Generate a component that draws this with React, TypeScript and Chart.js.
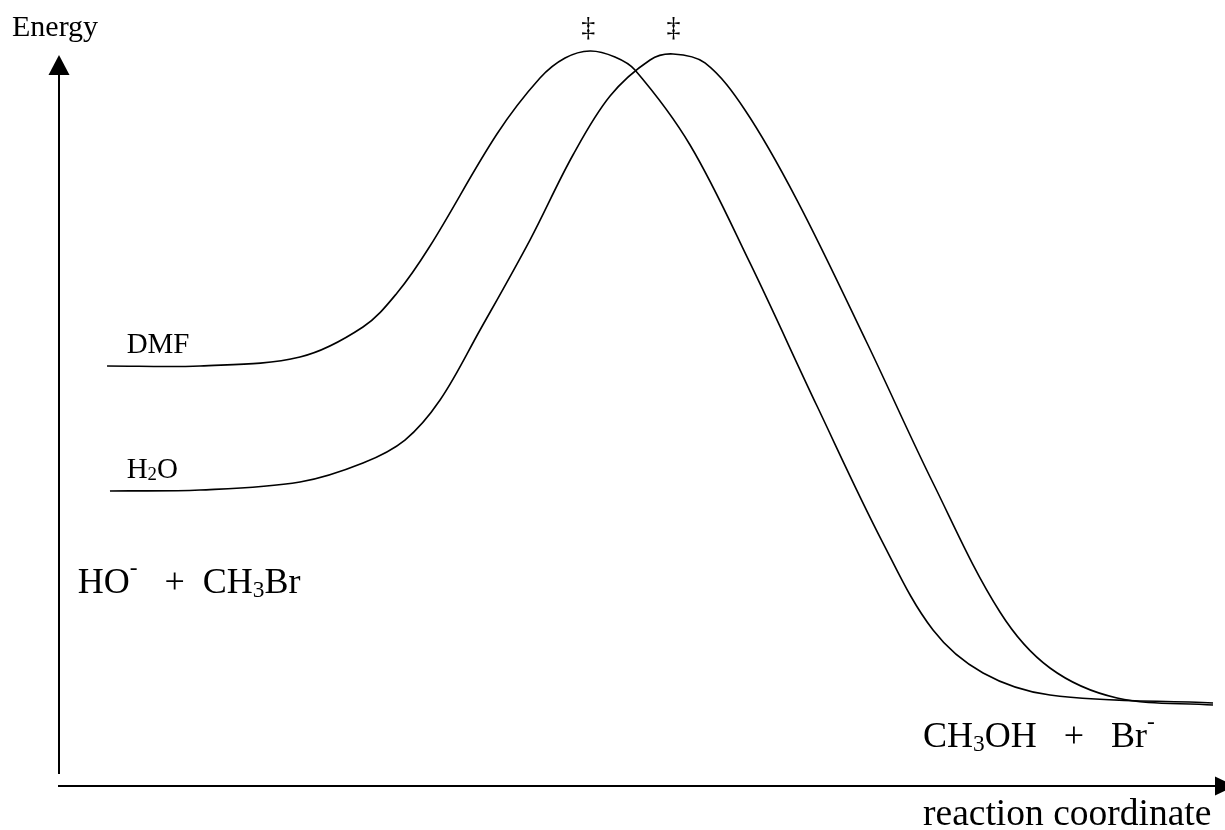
import React, { useEffect, useRef } from "react";
import { Chart, registerables } from "chart.js";

Chart.register(...registerables);

// Reaction coordinate (0-100) and energy (0-100, arbitrary units)
const dmfCoord = [4.12, 12.09, 20.67, 26.07, 28.99, 31.82, 37.56, 41.25, 43.4, 45.54, 47.68, 49.4, 54.12, 59.26, 65.01, 70.67, 74.96, 79.25, 84.99, 98.97];
const dmfEnergy = [57.46, 57.46, 58.69, 62.79, 67.44, 73.87, 89.19, 96.85, 99.59, 100.55, 99.73, 97.95, 87.69, 71.55, 51.98, 33.24, 21.34, 15.46, 12.45, 11.35];

const h2oCoord = [4.37, 12.09, 20.67, 26.07, 29.67, 32.68, 36.11, 40.39, 44.08, 47.26, 50.69, 52.66, 55.4, 58.83, 63.29, 69.3, 74.96, 80.7, 84.99, 90.74, 98.97];
const h2oEnergy = [40.36, 40.49, 41.59, 44.19, 47.33, 52.8, 62.38, 74.69, 86.32, 94.39, 99.32, 100.14, 98.91, 92.48, 80.16, 60.6, 41.45, 23.8, 16.14, 12.04, 11.08];

const seriesNames = ["DMF", "H2O"];

type Seg = { t: string; k?: "sub" | "sup" };

const FONT = '"Liberation Serif", "Times New Roman", serif';

function drawRich(ctx: CanvasRenderingContext2D, segs: Seg[], x: number, y: number, size: number) {
  let cx = x;
  for (const s of segs) {
    let fs = size;
    let dy = 0;
    if (s.k === "sub") {
      fs = size * 0.65;
      dy = size * 0.1;
    } else if (s.k === "sup") {
      fs = size * 0.65;
      dy = -size * 0.5;
    }
    ctx.font = `${fs}px ${FONT}`;
    ctx.fillText(s.t, cx, y + dy);
    cx += ctx.measureText(s.t).width;
  }
}

const diagramPlugin = {
  id: "diagram",
  afterDraw(chart: any) {
    const { ctx, chartArea, scales } = chart;
    const xs = scales.x;
    const ys = scales.y;
    const L = chartArea.left;
    const B = chartArea.bottom;
    ctx.save();
    ctx.strokeStyle = "#000";
    ctx.fillStyle = "#000";
    ctx.lineWidth = 2;
    // vertical axis
    ctx.beginPath();
    ctx.moveTo(L, B - 12);
    ctx.lineTo(L, chartArea.top + 18);
    ctx.stroke();
    ctx.beginPath();
    ctx.moveTo(L, chartArea.top);
    ctx.lineTo(L - 10.5, chartArea.top + 20);
    ctx.lineTo(L + 10.5, chartArea.top + 20);
    ctx.closePath();
    ctx.fill();
    // horizontal axis
    const axEnd = chart.width - 10;
    ctx.beginPath();
    ctx.moveTo(L - 1, B);
    ctx.lineTo(axEnd + 2, B);
    ctx.stroke();
    ctx.beginPath();
    ctx.moveTo(axEnd + 20, B);
    ctx.lineTo(axEnd, B - 9.5);
    ctx.lineTo(axEnd, B + 9.5);
    ctx.closePath();
    ctx.fill();

    ctx.textBaseline = "alphabetic";
    ctx.textAlign = "left";
    // axis titles
    drawRich(ctx, [{ t: "Energy" }], L - 47, chartArea.top - 19, 30);
    drawRich(ctx, [{ t: "reaction coordinate" }], xs.getPixelForValue(74.1), B + 39, 37.5);

    // transition state marks
    ctx.textAlign = "center";
    ctx.font = `28px ${FONT}`;
    ctx.fillText("\u2021", xs.getPixelForValue(45.4), ys.getPixelForValue(100) - 19);
    ctx.fillText("\u2021", xs.getPixelForValue(52.7), ys.getPixelForValue(100) - 19);
    ctx.textAlign = "left";

    // series labels
    drawRich(ctx, [{ t: seriesNames[0] }], xs.getPixelForValue(5.8), ys.getPixelForValue(59.3), 29);
    drawRich(ctx, [{ t: "H" }, { t: "2", k: "sub" }, { t: "O" }], xs.getPixelForValue(5.8), ys.getPixelForValue(42.2), 29);

    // reactants / products
    drawRich(
      ctx,
      [{ t: "HO" }, { t: "-", k: "sup" }, { t: "   +  CH" }, { t: "3", k: "sub" }, { t: "Br" }],
      xs.getPixelForValue(1.6),
      ys.getPixelForValue(26.4),
      36
    );
    drawRich(
      ctx,
      [{ t: "CH" }, { t: "3", k: "sub" }, { t: "OH   +   Br" }, { t: "-", k: "sup" }],
      xs.getPixelForValue(74.1),
      ys.getPixelForValue(5.3),
      36
    );
    ctx.restore();
  },
};

export default function App() {
  const ref = useRef<HTMLCanvasElement | null>(null);
  useEffect(() => {
    if (!ref.current) return;
    const chart = new Chart(ref.current, {
      type: "line",
      data: {
        datasets: [
          {
            label: seriesNames[0],
            data: dmfCoord.map((x, i) => ({ x, y: dmfEnergy[i] })),
            borderColor: "#000",
            borderWidth: 1.6,
            pointRadius: 0,
            tension: 0.35,
            fill: false,
            clip: false as any,
          },
          {
            label: seriesNames[1],
            data: h2oCoord.map((x, i) => ({ x, y: h2oEnergy[i] })),
            borderColor: "#000",
            borderWidth: 1.6,
            pointRadius: 0,
            tension: 0.35,
            fill: false,
            clip: false as any,
          },
        ],
      },
      options: {
        animation: false,
        responsive: false,
        layout: { padding: { left: 59, right: 0, top: 55, bottom: 44 } },
        plugins: { legend: { display: false }, tooltip: { enabled: false } },
        scales: {
          x: { type: "linear", min: 0, max: 100, display: false },
          y: { type: "linear", min: 0, max: 100, display: false },
        },
      },
      plugins: [diagramPlugin],
    });
    return () => chart.destroy();
  }, []);
  return (
    <div style={{ position: "absolute", left: 0, top: 0, width: 1225, height: 830, background: "#fff" }}>
      <canvas ref={ref} width={1225} height={830} style={{ display: "block" }} />
    </div>
  );
}
